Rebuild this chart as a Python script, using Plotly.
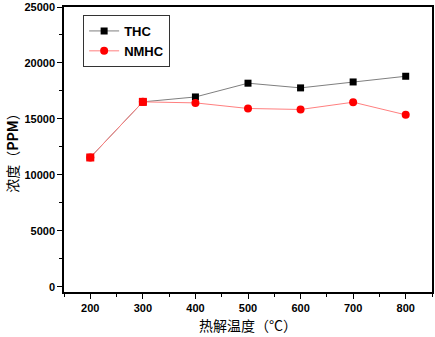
import plotly.graph_objects as go

temps = [200, 300, 400, 500, 600, 700, 800]
thc = [11550, 16520, 16960, 18190, 17770, 18300, 18810]
nmhc = [11550, 16520, 16430, 15930, 15840, 16490, 15360]
x_ticks = [200, 300, 400, 500, 600, 700, 800]
y_ticks = [0, 5000, 10000, 15000, 20000, 25000]

# points where both series coincide are drawn as red squares in the reference
overlap_x = [t for t, a, b in zip(temps, thc, nmhc) if a == b]
overlap_y = [a for a, b in zip(thc, nmhc) if a == b]

fig = go.Figure()
fig.add_trace(go.Scatter(
    x=temps, y=thc, name="THC", mode="lines+markers",
    line=dict(color="#7f7f7f", width=1),
    marker=dict(symbol="square", size=7, color="black", line=dict(width=0)),
))
fig.add_trace(go.Scatter(
    x=temps, y=nmhc, name="NMHC", mode="lines+markers",
    line=dict(color="#ff7f7f", width=1),
    marker=dict(symbol="circle", size=8, color="red", line=dict(width=0)),
))
fig.add_trace(go.Scatter(
    x=overlap_x, y=overlap_y, mode="markers", showlegend=False,
    marker=dict(symbol="square", size=8, color="red", line=dict(width=0)),
))

axis_font = dict(family="Liberation Sans, Arial", size=11, color="black")
fig.update_layout(
    width=435, height=337,
    margin=dict(l=64, r=3, t=7, b=45),
    paper_bgcolor="white", plot_bgcolor="white",
    showlegend=True,
    legend=dict(
        x=0.052, y=0.972, xanchor="left", yanchor="top",
        bordercolor="#333333", borderwidth=1, bgcolor="white",
        font=dict(family="Liberation Sans, Arial", size=13, color="black",
                  weight="bold"),
        tracegroupgap=0, itemwidth=30,
    ),
    xaxis=dict(
        range=[150, 850], tickvals=x_ticks, ticktext=[str(v) for v in x_ticks],
        showgrid=False, zeroline=False, automargin=False,
        showline=True, linecolor="black", linewidth=1.5, mirror=True,
        ticks="outside", ticklen=5, tickwidth=1, tickcolor="black",
        minor=dict(dtick=50, ticks="outside", ticklen=3, tickcolor="black"),
        tickfont=dict(weight="bold", **axis_font),
        title=dict(text="热解温度（°C）",
                   font=dict(family="Noto Sans CJK SC", size=14, color="black"),
                   standoff=8),
    ),
    yaxis=dict(
        range=[-475, 25000], tickvals=y_ticks, ticktext=[str(v) for v in y_ticks],
        showgrid=False, zeroline=False, automargin=False,
        showline=True, linecolor="black", linewidth=1.5, mirror=True,
        ticks="outside", ticklen=5, tickwidth=1, tickcolor="black",
        minor=dict(dtick=2500, ticks="outside", ticklen=3, tickcolor="black"),
        tickfont=dict(weight="bold", **axis_font),
        title=dict(text="浓度（<b>PPM</b>）",
                   font=dict(family="Noto Sans CJK SC", size=14, color="black"),
                   standoff=3),
    ),
)

fig.write_html(
    "out.html",
    config={"displayModeBar": False},
    post_script="document.body.style.margin='0';document.body.style.overflow='hidden';",
)
